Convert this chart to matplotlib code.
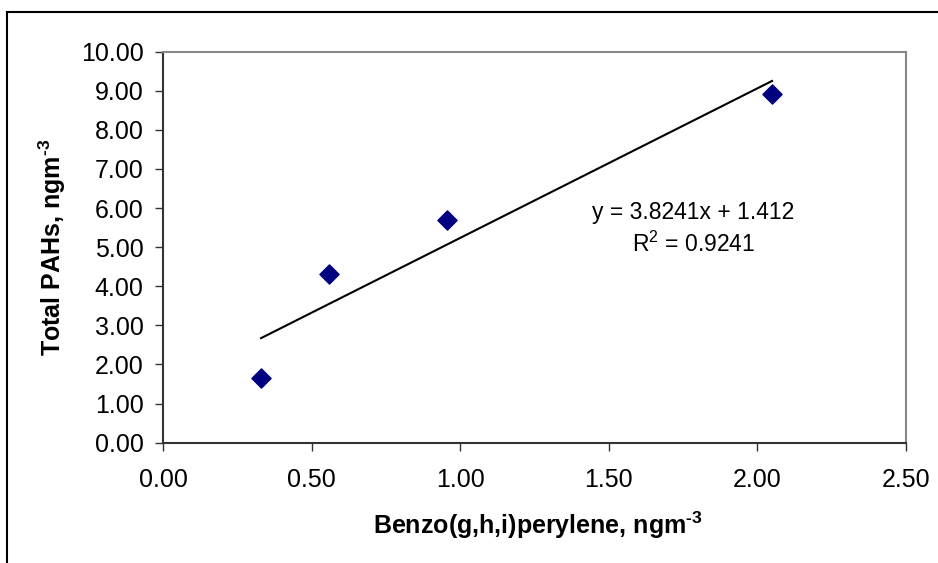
import numpy as np
import matplotlib
matplotlib.use('Agg')
import matplotlib.pyplot as plt
from matplotlib.lines import Line2D

plt.rcParams['font.family'] = ['Liberation Sans', 'DejaVu Sans']
plt.rcParams['mathtext.fontset'] = 'custom'
plt.rcParams['mathtext.rm'] = 'Liberation Sans'
plt.rcParams['mathtext.bf'] = 'Liberation Sans:bold'
plt.rcParams['mathtext.default'] = 'regular'

# benzo(g,h,i)perylene vs total PAHs, ng/m3
bghip = [0.33, 0.56, 0.955, 2.05]
total_pahs = [1.66, 4.31, 5.70, 8.93]

# fitted trendline
slope = 3.8241
intercept = 1.412
r2 = 0.9241

x_ticks = [0.0, 0.5, 1.0, 1.5, 2.0, 2.5]
y_ticks = [0, 1, 2, 3, 4, 5, 6, 7, 8, 9, 10]

fig = plt.figure(figsize=(9.38, 5.63), dpi=100)
ax = fig.add_axes([0.1738, 0.2137, 0.7918, 0.6945])

ax.scatter(bghip, total_pahs, marker='D', s=95, color='#000080', zorder=3)

xs = np.array([min(bghip), max(bghip)])
ax.plot(xs, slope * xs + intercept, color='black', lw=1.5, zorder=2)

ax.set_xlim(0, 2.5)
ax.set_ylim(0, 10)
ax.set_xticks(x_ticks)
ax.set_yticks(y_ticks)
ax.set_xticklabels(['{:.2f}'.format(v) for v in x_ticks])
ax.set_yticklabels(['{:.2f}'.format(v) for v in y_ticks])
ax.tick_params(axis='both', direction='out', length=6, width=1, color='#333333',
               labelsize=18)
ax.tick_params(axis='x', pad=12)
ax.tick_params(axis='y', pad=8)

for side in ['top', 'right']:
    ax.spines[side].set_color('#888888')
    ax.spines[side].set_linewidth(1.5)
for side in ['left', 'bottom']:
    ax.spines[side].set_color('#333333')
    ax.spines[side].set_linewidth(1.5)

sup = '$^{\\mathbf{\u2010}\\mathbf{3}}$'
ax.set_xlabel('Benzo(g,h,i)perylene, ngm' + sup, fontsize=18, fontweight='bold')
ax.set_ylabel('Total PAHs, ngm' + sup, fontsize=18, fontweight='bold')
ax.xaxis.set_label_coords(0.505, -0.172)
ax.yaxis.set_label_coords(-0.128, 0.5)

ax.text(0.714, 0.547, 'y = {:.4f}x + {:.3f}\nR$^2$ = {:.4f}'.format(slope, intercept, r2),
        transform=ax.transAxes, ha='center', va='center', multialignment='center',
        fontsize=16.5, linespacing=1.4)

# chart frame (left and top edges)
fig.add_artist(Line2D([7 / 938, 7 / 938], [0, 1 - 12 / 563], transform=fig.transFigure,
                      color='black', lw=1.5))
fig.add_artist(Line2D([7 / 938, 1], [1 - 12 / 563, 1 - 12 / 563], transform=fig.transFigure,
                      color='black', lw=1.5))

plt.savefig('out.png', dpi=100)
